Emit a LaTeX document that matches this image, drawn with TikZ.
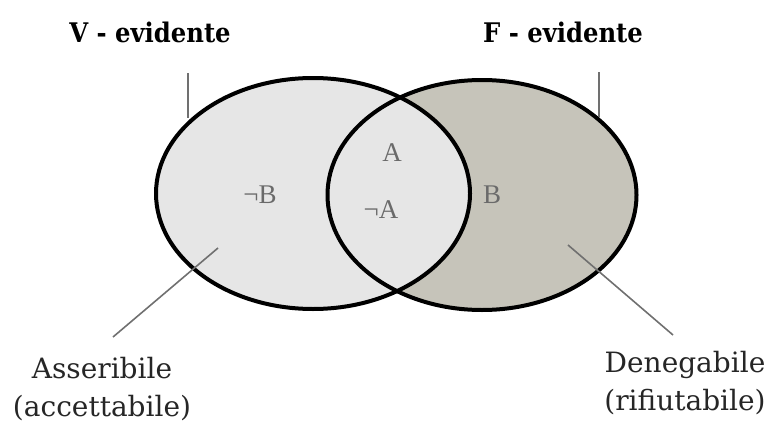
\documentclass[tikz,border=0pt]{standalone}
\usepackage{fontspec}
\setmainfont{DejaVu Serif}
\newfontfamily\condfont{DejaVu Serif Condensed}
\newfontfamily\timesfont{Liberation Serif}
\usetikzlibrary{shapes.geometric}
\definecolor{lightfill}{HTML}{E6E6E6}
\definecolor{darkfill}{HTML}{C6C4BA}
\definecolor{lbl}{HTML}{6A6A6A}
\definecolor{lead}{HTML}{707070}
\begin{document}
\begin{tikzpicture}[x=1pt,y=-1pt,
  venn/.style={ellipse, line width=4pt, inner sep=0pt},
  inlbl/.style={text=lbl, font=\timesfont\fontsize{27}{30}\selectfont},
  toplbl/.style={font=\condfont\bfseries\fontsize{27}{30}\selectfont},
  sidelbl/.style={font=\fontsize{28}{38}\selectfont, align=center, text=black!85},
  leader/.style={draw=lead, line width=1.6pt}]
\useasboundingbox (0,0) rectangle (773,428);
% fills
\node[venn, fill=darkfill, minimum width=309, minimum height=230] (Rf) at (482,195) {};
\node[venn, fill=lightfill, minimum width=314, minimum height=231] (Lf) at (313,193.5) {};
% outlines
\node[venn, draw=black, minimum width=309, minimum height=230] (R) at (482,195) {};
\node[venn, draw=black, minimum width=314, minimum height=231] (L) at (313,193.5) {};
% inner labels
\node[inlbl] (nB) at (260,195) {¬B};
\node[inlbl] (A) at (392,153) {A};
\node[inlbl] (nA) at (381,210) {¬A};
\node[inlbl] (B) at (492,195) {B};
% top labels
\node[toplbl] (V) at (150,32) {V - evidente};
\node[toplbl] (F) at (563,32) {F - evidente};
\coordinate (v1) at (188,73);
\coordinate (v2) at (188,118);
\coordinate (f1) at (599,72);
\coordinate (f2) at (599,117);
\draw[leader] (v1) -- (v2);
\draw[leader] (f1) -- (f2);
% side labels
\node[sidelbl] (As) at (102,389) {Asseribile\\(accettabile)};
\node[sidelbl] (De) at (685,383) {Denegabile\\(rifiutabile)};
\coordinate (a1) at (218,248);
\coordinate (a2) at (113,337);
\coordinate (d1) at (568,245);
\coordinate (d2) at (673,335);
\draw[leader] (a1) -- (a2);
\draw[leader] (d1) -- (d2);
\end{tikzpicture}
\end{document}
